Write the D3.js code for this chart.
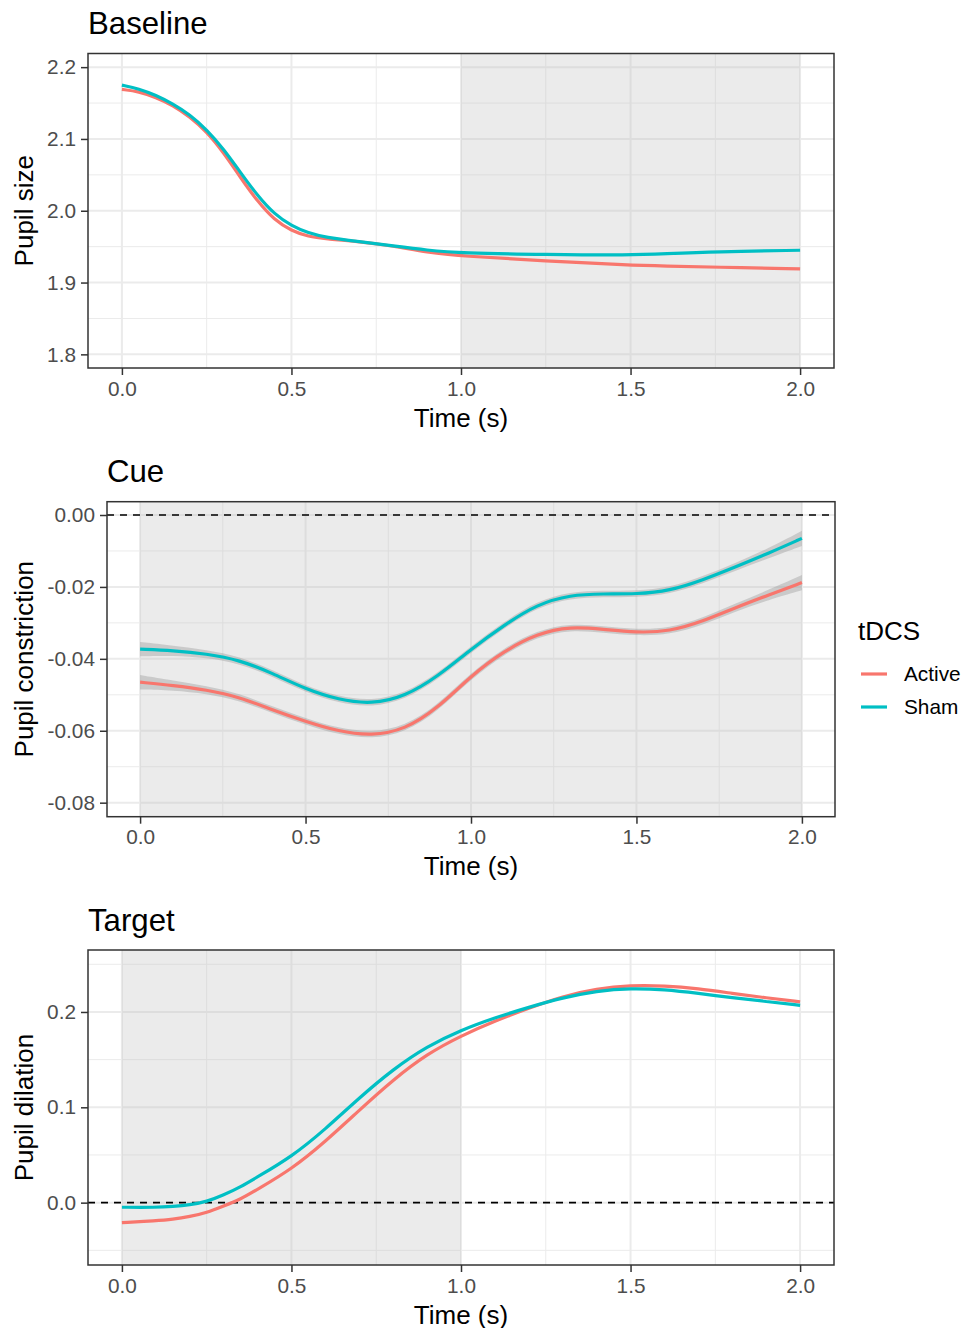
<!DOCTYPE html>
<html>
<head>
<meta charset="utf-8">
<script src="https://cdn.jsdelivr.net/npm/d3@7"></script>
<style>
  html, body { margin: 0; padding: 0; background: #ffffff; }
  svg text { font-family: "Liberation Sans", Arial, "DejaVu Sans", sans-serif; }
</style>
</head>
<body>
<svg id="chart" width="963" height="1328"></svg>
<script>
// ---------------- DATA ----------------
const groups = ["Active", "Sham"];
const groupColors = ["#F8766D", "#00BFC4"];
const xTicks = [0, 0.5, 1.0, 1.5, 2.0];
const xMinor = [0.25, 0.75, 1.25, 1.75];

// Panel 1: Baseline
const baselineTime   = [0, 0.05, 0.1, 0.15, 0.2, 0.25, 0.3, 0.35, 0.4, 0.45, 0.5, 0.55, 0.6, 0.7, 0.8, 0.9, 1.0, 1.25, 1.5, 1.6, 1.75, 2.0];
const baselineActive = [2.169, 2.166, 2.158, 2.147, 2.131, 2.110, 2.081, 2.046, 2.013, 1.987, 1.972, 1.964, 1.961, 1.957, 1.951, 1.942, 1.937, 1.930, 1.924, 1.923, 1.9215, 1.919];
const baselineSham   = [2.175, 2.170, 2.161, 2.149, 2.134, 2.113, 2.086, 2.053, 2.021, 1.995, 1.979, 1.969, 1.963, 1.957, 1.951, 1.945, 1.941, 1.939, 1.938, 1.940, 1.943, 1.945];
const baselineYTicks = [1.8, 1.9, 2.0, 2.1, 2.2];
const baselineYMinor = [1.85, 1.95, 2.05, 2.15];
const baselineShade  = [1.0, 2.0];

// Panel 2: Cue
const cueTime   = [0, 0.1, 0.2, 0.3, 0.4, 0.5, 0.6, 0.7, 0.8, 0.9, 1.0, 1.1, 1.2, 1.3, 1.4, 1.5, 1.6, 1.7, 1.8, 1.9, 2.0];
const cueActive = [-0.0465, -0.0474, -0.0486, -0.0506, -0.0542, -0.0574, -0.0602, -0.0614, -0.0597, -0.0537, -0.0447, -0.0378, -0.0330, -0.0310, -0.0318, -0.0327, -0.0324, -0.0296, -0.0257, -0.0222, -0.0188];
const cueSham   = [-0.0373, -0.0377, -0.0386, -0.0403, -0.0440, -0.0484, -0.0514, -0.0526, -0.0505, -0.0449, -0.0373, -0.0306, -0.0248, -0.0222, -0.0219, -0.0220, -0.0211, -0.0181, -0.0144, -0.0106, -0.0065];
const cueSE     = [0.0020, 0.0014, 0.0011, 0.0010, 0.0009, 0.0009, 0.0009, 0.0009, 0.0009, 0.0009, 0.0009, 0.0009, 0.0009, 0.0009, 0.0009, 0.0009, 0.0009, 0.0010, 0.0011, 0.0014, 0.0021];
const cueYTicks = [-0.08, -0.06, -0.04, -0.02, 0.00];
const cueYMinor = [-0.07, -0.05, -0.03, -0.01];
const cueShade  = [0.0, 2.0];

// Panel 3: Target
const targetTime   = [0, 0.1, 0.15, 0.2, 0.25, 0.3, 0.35, 0.4, 0.5, 0.6, 0.7, 0.8, 0.9, 1.0, 1.1, 1.2, 1.3, 1.4, 1.5, 1.6, 1.7, 1.8, 1.9, 2.0];
const targetActive = [-0.021, -0.019, -0.0175, -0.0147, -0.0105, -0.0035, 0.0035, 0.014, 0.035, 0.064, 0.097, 0.129, 0.156, 0.175, 0.1905, 0.204, 0.2165, 0.2245, 0.228, 0.2275, 0.2245, 0.2195, 0.2148, 0.2106];
const targetSham   = [-0.0048, -0.005, -0.004, -0.0024, 0.001, 0.008, 0.0165, 0.027, 0.048, 0.077, 0.110, 0.140, 0.164, 0.181, 0.194, 0.205, 0.215, 0.222, 0.225, 0.2235, 0.2195, 0.215, 0.211, 0.207];
const targetYTicks = [0.0, 0.1, 0.2];
const targetYMinor = [-0.05, 0.05, 0.15, 0.25];
const targetShade  = [0.0, 1.0];

// ---------------- DRAW ----------------
const svg = d3.select("#chart");
const FONT_TICK = 20.8, FONT_AXIS = 26, FONT_TITLE = 31.2;

function fmt(spec) {
  const f = d3.format(spec);
  return d => f(d).replace("\u2212", "-");
}

function drawPanel(cfg) {
  const {title, ylab, left, right, top, bottom, xDomain, yDomain, yTicks, yMinor, yFmt,
         time, active, sham, se, shade, hline} = cfg;
  const x = d3.scaleLinear().domain(xDomain).range([left, right]);
  const y = d3.scaleLinear().domain(yDomain).range([bottom, top]);
  const g = svg.append("g");

  g.append("rect").attr("x", left).attr("y", top).attr("width", right - left).attr("height", bottom - top)
    .attr("fill", "#ffffff");

  // minor grid
  g.selectAll(".xminor").data(xMinor).join("line")
    .attr("x1", d => x(d)).attr("x2", d => x(d)).attr("y1", top).attr("y2", bottom)
    .attr("stroke", "#ebebeb").attr("stroke-width", 1);
  g.selectAll(".yminor").data(yMinor).join("line")
    .attr("y1", d => y(d)).attr("y2", d => y(d)).attr("x1", left).attr("x2", right)
    .attr("stroke", "#ebebeb").attr("stroke-width", 1);
  // major grid
  g.selectAll(".xmajor").data(xTicks).join("line")
    .attr("x1", d => x(d)).attr("x2", d => x(d)).attr("y1", top).attr("y2", bottom)
    .attr("stroke", "#ebebeb").attr("stroke-width", 2);
  g.selectAll(".ymajor").data(yTicks).join("line")
    .attr("y1", d => y(d)).attr("y2", d => y(d)).attr("x1", left).attr("x2", right)
    .attr("stroke", "#ebebeb").attr("stroke-width", 2);

  // shaded time window
  g.append("rect").attr("x", x(shade[0])).attr("y", top)
    .attr("width", x(shade[1]) - x(shade[0])).attr("height", bottom - top)
    .attr("fill", "#bebebe").attr("fill-opacity", 0.3);

  if (hline !== null) {
    g.append("line").attr("x1", left).attr("x2", right).attr("y1", y(hline)).attr("y2", y(hline))
      .attr("stroke", "#000").attr("stroke-width", 1.6).attr("stroke-dasharray", "7,6");
  }

  const series = [active, sham];
  if (se) {
    series.forEach((vals) => {
      const pts = time.map((t, i) => ({t, lo: vals[i] - se[i], hi: vals[i] + se[i]}));
      const area = d3.area().x(d => x(d.t)).y0(d => y(d.lo)).y1(d => y(d.hi)).curve(d3.curveBasis);
      g.append("path").attr("d", area(pts)).attr("fill", "#999999").attr("fill-opacity", 0.4);
    });
  }
  series.forEach((vals, k) => {
    const pts = time.map((t, i) => ({t, v: vals[i]}));
    const line = d3.line().x(d => x(d.t)).y(d => y(d.v)).curve(d3.curveBasis);
    g.append("path").attr("d", line(pts)).attr("fill", "none")
      .attr("stroke", groupColors[k]).attr("stroke-width", 3.2).attr("stroke-linecap", "butt");
  });

  g.append("rect").attr("x", left).attr("y", top).attr("width", right - left).attr("height", bottom - top)
    .attr("fill", "none").attr("stroke", "#333333").attr("stroke-width", 1.5);

  const xAxis = d3.axisBottom(x).tickValues(xTicks).tickFormat(fmt(".1f")).tickSize(7).tickPadding(6);
  const xg = g.append("g").attr("transform", `translate(0,${bottom})`).call(xAxis);
  xg.select(".domain").remove();
  xg.selectAll(".tick line").attr("stroke", "#333333").attr("stroke-width", 1.5);
  xg.selectAll(".tick text").attr("fill", "#4d4d4d").attr("font-size", FONT_TICK)
    .attr("font-family", "'Liberation Sans', Arial, sans-serif");

  const yAxis = d3.axisLeft(y).tickValues(yTicks).tickFormat(fmt(yFmt)).tickSize(7).tickPadding(5);
  const yg = g.append("g").attr("transform", `translate(${left},0)`).call(yAxis);
  yg.select(".domain").remove();
  yg.selectAll(".tick line").attr("stroke", "#333333").attr("stroke-width", 1.5);
  yg.selectAll(".tick text").attr("fill", "#4d4d4d").attr("font-size", FONT_TICK)
    .attr("font-family", "'Liberation Sans', Arial, sans-serif");

  g.append("text").attr("x", left).attr("y", top - 19.5).text(title)
    .attr("font-size", FONT_TITLE).attr("fill", "#000");
  g.append("text").attr("x", (left + right) / 2).attr("y", bottom + 58.5).attr("text-anchor", "middle")
    .text("Time (s)").attr("font-size", FONT_AXIS).attr("fill", "#000");
  g.append("text").attr("transform", `translate(33,${(top + bottom) / 2}) rotate(-90)`)
    .attr("text-anchor", "middle").text(ylab).attr("font-size", FONT_AXIS).attr("fill", "#000");
}

drawPanel({
  title: "Baseline", ylab: "Pupil size", left: 88, right: 834, top: 53.5, bottom: 368,
  xDomain: [-0.1, 2.1], yDomain: [1.781, 2.219], yTicks: baselineYTicks, yMinor: baselineYMinor, yFmt: ".1f",
  time: baselineTime, active: baselineActive, sham: baselineSham, se: null, shade: baselineShade, hline: null
});
drawPanel({
  title: "Cue", ylab: "Pupil constriction", left: 107, right: 835, top: 501.7, bottom: 816.7,
  xDomain: [-0.1, 2.1], yDomain: [-0.0839, 0.0037], yTicks: cueYTicks, yMinor: cueYMinor, yFmt: ".2f",
  time: cueTime, active: cueActive, sham: cueSham, se: cueSE, shade: cueShade, hline: 0
});
drawPanel({
  title: "Target", ylab: "Pupil dilation", left: 88, right: 834, top: 950, bottom: 1265,
  xDomain: [-0.1, 2.1], yDomain: [-0.0654, 0.265], yTicks: targetYTicks, yMinor: targetYMinor, yFmt: ".1f",
  time: targetTime, active: targetActive, sham: targetSham, se: null, shade: targetShade, hline: 0
});

// legend
const leg = svg.append("g");
leg.append("text").attr("x", 858).attr("y", 640).text("tDCS").attr("font-size", FONT_AXIS).attr("fill", "#000");
const legY = [674, 707];
groups.forEach((name, i) => {
  leg.append("line").attr("x1", 861).attr("x2", 887).attr("y1", legY[i]).attr("y2", legY[i])
    .attr("stroke", groupColors[i]).attr("stroke-width", 3.2);
  leg.append("text").attr("x", 904).attr("y", legY[i]).attr("dy", "0.36em").text(name)
    .attr("font-size", FONT_TICK).attr("fill", "#000");
});
</script>
</body>
</html>
